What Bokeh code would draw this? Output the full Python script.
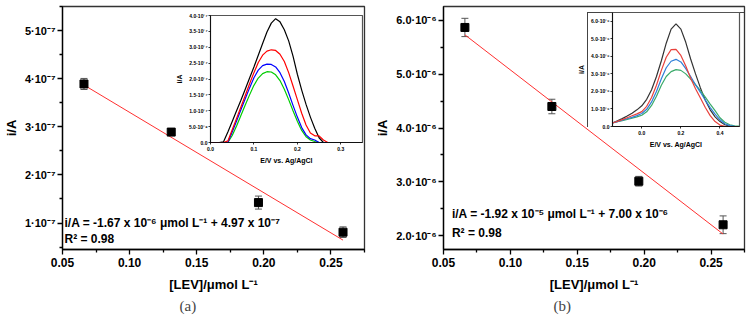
from bokeh.plotting import figure
from bokeh.models import (ColumnDataSource, FixedTicker, Whisker, TeeHead, Title,
                          Range1d, GridBox, Label, CustomJSTickFormatter,
                          PrintfTickFormatter)
from bokeh.embed import file_html
from bokeh.resources import INLINE

# ---------------- calibration data ----------------
lev = [0.066, 0.131, 0.196, 0.259]                      # [LEV] / umol L-1

cur_a = [3.89e-7, 2.89e-7, 1.425e-7, 0.81e-7]            # i / A, panel (a)
err_a = [0.115e-7, 0.07e-7, 0.135e-7, 0.11e-7]
slope_a, icpt_a = -1.67e-6, 4.97e-7

cur_b = [5.87e-6, 4.40e-6, 3.01e-6, 2.20e-6]             # i / A, panel (b)
err_b = [0.17e-6, 0.135e-6, 0.09e-6, 0.165e-6]
slope_b, icpt_b = -1.92e-5, 7.00e-6

fit_x = [0.066, 0.259]

eq_a = "i/A = -1.67 x 10\u207b\u2076 \u03bcmol L\u207b\u00b9 + 4.97 x 10\u207b\u2077"
eq_b = "i/A = -1.92 x 10\u207b\u2075 \u03bcmol L\u207b\u00b9 + 7.00 x 10\u207b\u2076"
r2_text = "R\u00b2 = 0.98"

# main axis ticks
xticks = [0.05, 0.10, 0.15, 0.20, 0.25]
xminor = [0.075, 0.125, 0.175, 0.225, 0.275]
yticks_a = [1e-7, 2e-7, 3e-7, 4e-7, 5e-7]
ylabels_a = ["1\u00b710\u207b\u2077", "2\u00b710\u207b\u2077", "3\u00b710\u207b\u2077",
             "4\u00b710\u207b\u2077", "5\u00b710\u207b\u2077"]
yminor_a = [0.5e-7, 1.5e-7, 2.5e-7, 3.5e-7, 4.5e-7, 5.5e-7]
yticks_b = [2e-6, 3e-6, 4e-6, 5e-6, 6e-6]
ylabels_b = ["2.0\u00b710\u207b\u2076", "3.0\u00b710\u207b\u2076", "4.0\u00b710\u207b\u2076",
             "5.0\u00b710\u207b\u2076", "6.0\u00b710\u207b\u2076"]
yminor_b = [1.5e-6, 2.5e-6, 3.5e-6, 4.5e-6, 5.5e-6]

# ---------------- DPV curves, panel (a) inset (current in 1e-7 A) ----------------
e_a = [0.00, 0.01, 0.02, 0.03, 0.04, 0.05, 0.06, 0.07, 0.08, 0.09, 0.10, 0.11, 0.12, 0.13,
       0.14, 0.15, 0.16, 0.17, 0.18, 0.19, 0.20, 0.21, 0.22, 0.23, 0.24, 0.25, 0.26, 0.27]
black_a = [0, 0, 0, 0.02, 0.33, 0.66, 1.00, 1.33, 1.68, 2.03, 2.38, 2.75, 3.12, 3.48,
           3.76, 3.90, 3.80, 3.55, 3.20, 2.72, 2.15, 1.65, 1.20, 0.80, 0.45, 0.15, 0, 0]
red_a = [0, 0, 0, 0, 0.05, 0.40, 0.76, 1.12, 1.48, 1.85, 2.20, 2.52, 2.75, 2.88,
         2.92, 2.90, 2.78, 2.55, 2.20, 1.78, 1.35, 0.92, 0.55, 0.30, 0.21, 0.21, 0.08, 0]
blue_a = [0, 0, 0, 0, 0, 0.33, 0.68, 1.03, 1.38, 1.72, 2.04, 2.28, 2.42, 2.47,
          2.46, 2.38, 2.20, 1.92, 1.56, 1.17, 0.80, 0.47, 0.24, 0.12, 0.08, 0, 0, 0]
green_a = [0, 0, 0, 0, 0, 0.22, 0.52, 0.85, 1.18, 1.50, 1.80, 2.03, 2.17, 2.23,
           2.22, 2.13, 1.95, 1.68, 1.35, 1.00, 0.67, 0.38, 0.18, 0.08, 0.03, 0, 0, 0]
unit_a = 1e-7

ins_yticks_a = [0, 0.5e-7, 1.0e-7, 1.5e-7, 2.0e-7, 2.5e-7, 3.0e-7, 3.5e-7, 4.0e-7]
ins_ylabels_a = ["0.0", "5.0\u00b710\u207b\u2078", "1.0\u00b710\u207b\u2077", "1.5\u00b710\u207b\u2077",
                 "2.0\u00b710\u207b\u2077", "2.5\u00b710\u207b\u2077", "3.0\u00b710\u207b\u2077",
                 "3.5\u00b710\u207b\u2077", "4.0\u00b710\u207b\u2077"]
ins_xticks_a = [0.0, 0.1, 0.2, 0.3]

# ---------------- DPV curves, panel (b) inset (current in 1e-6 A) ----------------
e_b = [-0.15, -0.125, -0.10, -0.075, -0.05, -0.025, 0.0, 0.025, 0.05, 0.075, 0.10, 0.125,
       0.15, 0.175, 0.20, 0.225, 0.25, 0.275, 0.30, 0.325, 0.35, 0.375, 0.40, 0.425,
       0.45, 0.475, 0.50]
black_b = [0.20, 0.32, 0.45, 0.60, 0.76, 0.95, 1.18, 1.55, 2.10, 2.85, 3.75, 4.75,
           5.55, 5.85, 5.55, 4.80, 3.85, 3.00, 2.20, 1.50, 0.95, 0.55, 0.28, 0.10,
           0.02, 0.0, 0.0]
red_b = [0.20, 0.29, 0.39, 0.50, 0.61, 0.72, 0.85, 1.15, 1.65, 2.35, 3.20, 3.95,
         4.38, 4.40, 4.05, 3.45, 2.75, 2.15, 1.62, 1.08, 0.62, 0.28, 0.08, 0.01,
         0.0, 0.0, 0.0]
blue_b = [0.21, 0.28, 0.36, 0.44, 0.52, 0.62, 0.74, 0.98, 1.40, 2.00, 2.72, 3.35,
          3.72, 3.83, 3.68, 3.30, 2.85, 2.38, 1.95, 1.50, 1.08, 0.70, 0.38, 0.16,
          0.05, 0.01, 0.0]
green_b = [0.21, 0.27, 0.33, 0.40, 0.47, 0.55, 0.64, 0.84, 1.20, 1.72, 2.35, 2.85,
           3.13, 3.24, 3.20, 3.00, 2.70, 2.38, 2.05, 1.68, 1.28, 0.90, 0.50, 0.24,
           0.10, 0.04, 0.02]
unit_b = 1e-6

ins_yticks_b = [0, 1e-6, 2e-6, 3e-6, 4e-6, 5e-6, 6e-6]
ins_ylabels_b = ["0.0", "1.0\u00b710\u207b\u2076", "2.0\u00b710\u207b\u2076", "3.0\u00b710\u207b\u2076",
                 "4.0\u00b710\u207b\u2076", "5.0\u00b710\u207b\u2076", "6.0\u00b710\u207b\u2076"]
ins_xticks_b = [0.0, 0.2, 0.4]

SANS = "Liberation Sans"
SERIF = "Liberation Serif"


def label_formatter(tick_values, tick_texts):
    return CustomJSTickFormatter(args=dict(tv=tick_values, tl=tick_texts), code="""
        let best = 0;
        for (let i = 1; i < tv.length; i++) {
            if (Math.abs(tv[i] - tick) < Math.abs(tv[best] - tick)) best = i;
        }
        return tl[best];
    """)


def style_axes(p, tick_size, label_size, tick_out, minor_out, lw):
    for ax in (p.xaxis[0], p.yaxis[0]):
        ax.axis_line_width = lw
        ax.axis_line_color = "black"
        ax.major_tick_line_width = lw
        ax.minor_tick_line_width = lw
        ax.major_tick_in = 0
        ax.major_tick_out = tick_out
        ax.minor_tick_in = 0
        ax.minor_tick_out = minor_out
        ax.major_label_text_font = SANS
        ax.major_label_text_font_style = "bold"
        ax.major_label_text_font_size = tick_size
        ax.major_label_text_color = "black"
        ax.axis_label_text_font = SANS
        ax.axis_label_text_font_style = "bold"
        ax.axis_label_text_font_size = label_size
        ax.axis_label_text_color = "black"
    p.grid.visible = False


def main_panel(cur, err, slope, icpt, yr, yticks, ylabels, yminor, eq, eq_pos, caption,
               cap_offset, width, borders):
    left, right, top, bottom = borders
    p = figure(width=width, height=317, output_backend="svg", toolbar_location=None,
               x_range=Range1d(0.05, 0.275), y_range=Range1d(*yr),
               min_border_left=left, min_border_right=right,
               min_border_top=top, min_border_bottom=bottom)
    p.outline_line_color = "#333333"
    p.outline_line_width = 1.3
    p.background_fill_color = "white"
    p.xaxis.ticker = FixedTicker(ticks=xticks, minor_ticks=xminor)
    p.xaxis.formatter = PrintfTickFormatter(format="%.2f")
    p.yaxis.ticker = FixedTicker(ticks=yticks, minor_ticks=yminor)
    p.yaxis.formatter = label_formatter(yticks, ylabels)
    p.xaxis.axis_label = "[LEV]/\u03bcmol L\u207b\u00b9"
    p.yaxis.axis_label = "i/A"
    style_axes(p, "11px", "13px", 5, 3, 1.3)
    p.xaxis.major_label_text_font_size = "12px"
    p.xaxis.major_label_standoff = 3
    p.yaxis.major_label_standoff = 2
    p.xaxis.axis_label_standoff = 7
    p.yaxis.axis_label_standoff = 3

    # fitted calibration line
    fit_y = [slope * x + icpt for x in fit_x]
    p.line(fit_x, fit_y, line_color="#ff3030", line_width=1)

    src = ColumnDataSource(dict(x=lev, y=cur,
                                lo=[c - e for c, e in zip(cur, err)],
                                hi=[c + e for c, e in zip(cur, err)]))
    p.add_layout(Whisker(source=src, base="x", upper="hi", lower="lo",
                         line_color="#555555", line_width=1,
                         upper_head=TeeHead(size=7, line_color="#555555", line_width=1),
                         lower_head=TeeHead(size=7, line_color="#555555", line_width=1)))
    p.scatter("x", "y", source=src, marker="square", size=8, color="black")

    ex, ey1, ey2 = eq_pos
    for txt, yy in ((eq, ey1), (r2_text, ey2)):
        p.add_layout(Label(x=ex, y=yy, text=txt, text_font=SANS, text_font_style="bold",
                           text_font_size="12px", text_baseline="middle", text_color="black"))

    p.add_layout(Title(text=caption, align="left", offset=cap_offset, text_font=SERIF,
                       text_font_style="normal", text_font_size="15px",
                       standoff=2), "below")
    return p


def inset_panel(e, curves, unit, xr, yr, xticks_i, yticks_i, ylabels_i, colors,
                width, height, borders):
    left, right, top, bottom = borders
    p = figure(width=width, height=height, output_backend="svg", toolbar_location=None,
               x_range=Range1d(*xr), y_range=Range1d(*yr),
               min_border_left=left, min_border_right=right,
               min_border_top=top, min_border_bottom=bottom)
    p.border_fill_color = None
    p.background_fill_color = "white"
    p.outline_line_color = "#555555"
    p.outline_line_width = 1.2
    p.xaxis.ticker = FixedTicker(ticks=xticks_i)
    p.xaxis.formatter = PrintfTickFormatter(format="%.1f")
    p.yaxis.ticker = FixedTicker(ticks=yticks_i)
    p.yaxis.formatter = label_formatter(yticks_i, ylabels_i)
    p.xaxis.axis_label = "E/V vs. Ag/AgCl"
    p.yaxis.axis_label = "i/A"
    style_axes(p, "5px", "7px", 2, 0, 0.8)
    p.xaxis.major_label_standoff = 2
    p.yaxis.major_label_standoff = 1
    p.xaxis.axis_label_standoff = 3
    p.yaxis.axis_label_standoff = 3
    for vals, col in zip(curves, colors):
        p.line(e, [v * unit for v in vals], line_color=col, line_width=1.2)
    return p


p_a = main_panel(cur_a, err_a, slope_a, icpt_a, (0.45e-7, 5.5e-7), yticks_a, ylabels_a,
                 yminor_a, eq_a, (0.0515, 1.01e-7, 0.67e-7), "(a)", 117,
                 372, (60, 7, 6, 65))
p_b = main_panel(cur_b, err_b, slope_b, icpt_b, (1.74e-6, 6.26e-6), yticks_b, ylabels_b,
                 yminor_b, eq_b, (0.0563, 2.40e-6, 2.05e-6), "(b)", 110,
                 377, (71, 5, 4, 68))

ins_a = inset_panel(e_a, [black_a, green_a, blue_a, red_a], unit_a, (0.0, 0.35), (0.0, 4.0e-7),
                    ins_xticks_a, ins_yticks_a, ins_ylabels_a,
                    ["black", "#00cc00", "#0000ff", "#ff0000"], 200, 158, (40, 8, 7, 23))
ins_b = inset_panel(e_b, [black_b, green_b, blue_b, red_b], unit_b, (-0.15, 0.5), (0.0, 6.5e-6),
                    ins_xticks_b, ins_yticks_b, ins_ylabels_b,
                    ["#333333", "#3aaa6a", "#2f7fd8", "#e8413c"], 169, 138, (32, 1, 0, 24))
# boxed frame around the inset's tick labels (top edge and left edge)
ins_b.styles = {
    "background": ("linear-gradient(#444444, #444444) 12px 0px / 1px 115px no-repeat, "
                   "linear-gradient(#444444, #444444) 12px 0px / 157px 1px no-repeat"),
}

grid = GridBox(children=[(p_a, 0, 0, 4, 2), (p_b, 0, 2, 4, 2),
                         (ins_a, 1, 1, 2, 1), (ins_b, 2, 3, 1, 1)],
               rows=["8px", "4px", "154px", "151px"],
               cols=["170px", "202px", "203px", "174px"])

with open("out.html", "w") as f:
    f.write(file_html(grid, INLINE))
